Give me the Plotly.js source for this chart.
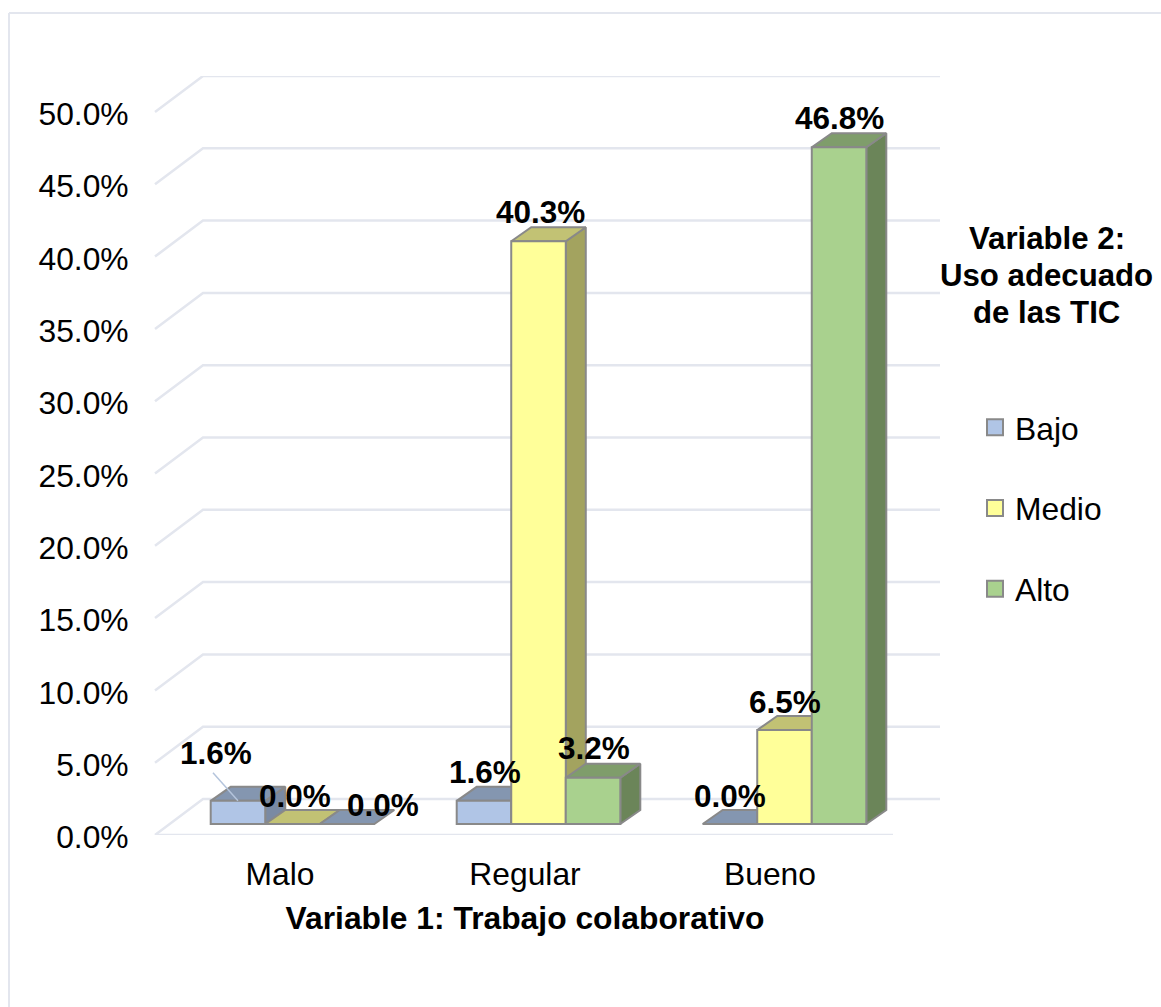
<!DOCTYPE html>
<html>
<head>
<meta charset="utf-8">
<script src="https://cdn.plot.ly/plotly-3.0.1.min.js"></script>
<style>html,body{margin:0;padding:0;background:#fff;overflow:hidden}</style>
</head>
<body>
<div id="chart"></div>
<script>
// ---- data ----
const categories = ["Malo", "Regular", "Bueno"];
const seriesNames = ["Bajo", "Medio", "Alto"];
const bajo = [1.6, 1.6, 0.0];
const medio = [0.0, 40.3, 6.5];
const alto = [0.0, 3.2, 46.8];
const yTicks = [0, 5, 10, 15, 20, 25, 30, 35, 40, 45, 50];
const xTitle = "Variable 1: Trabajo colaborativo";
const legendTitleLines = ["Variable 2:", "Uso adecuado", "de las TIC"];

// ---- styles ----
const frontColors = ["#b0c5e6", "#ffff99", "#a9d18e"];
const topColors = ["#8496b0", "#c2c274", "#7f9d6b"];
const sideColors = ["#7a8aa3", "#a3a35f", "#6b8559"];
const edge = "#898989";
const gridColor = "#e3e6ee";
const FONT = "Liberation Sans, Arial, sans-serif";
const FS = 31.8;

// ---- frame geometry (pixels of the page) ----
const W = 1161, H = 1007;
const plotL = 110, plotR = 940, plotT = 76, plotB = 835;
const groupPx = 246, pxPerPct = 14.46, firstGroupPx = 292.5;
const xMin = (plotL - firstGroupPx) / groupPx, xMax = (plotR - firstGroupPx) / groupPx;
const yMax = (plotB - plotT) / pxPerPct;
const ux = p => p / groupPx, uy = p => p / pxPerPct;
const barBase = uy(11), depthX = ux(20), depthY = uy(14);
const bargap = 0.335, barW = (1 - bargap) / 3;
const paperX = p => (p - plotL) / (plotR - plotL);
const paperY = p => (plotB - p) / (plotB - plotT);

const series = [bajo, medio, alto];
const traces = [];

// walls and floor gridlines
const gx = [], gy = [];
const wallLeft = ux(155 - firstGroupPx), wallBackX = ux(203 - firstGroupPx), wallBackY = uy(36);
yTicks.forEach(t => {
  gx.push(wallLeft, wallBackX, xMax, null);
  gy.push(t, t + wallBackY, t + wallBackY, null);
});
gx.push(wallLeft, ux(893 - firstGroupPx));
gy.push(0, 0);
traces.push({type: "scatter", mode: "lines", x: gx, y: gy, hoverinfo: "skip", showlegend: false,
  cliponaxis: false, line: {color: gridColor, width: 2.5}});

// side and top faces, computed from the values
const poly = () => ({x: [], y: []});
const add = (p, xs, ys) => {
  p.x.push(...xs, xs[0], null);
  p.y.push(...ys, ys[0], null);
};
const zeroAltoTop = poly();
series.forEach((vals, s) => {
  const side = poly(), top = poly();
  vals.forEach((v, i) => {
    const xL = i + (s - 1) * barW - barW / 2, xR = xL + barW, yt = barBase + v;
    if (v > 0) add(side, [xR, xR, xR + depthX, xR + depthX],
      [barBase, yt, yt + depthY, barBase + depthY]);
    const target = (s === 2 && v === 0) ? zeroAltoTop : top;
    add(target, [xL, xR, xR + depthX, xL + depthX], [yt, yt, yt + depthY, yt + depthY]);
  });
  const face = (p, c) => traces.push({type: "scatter", mode: "lines", x: p.x, y: p.y, fill: "toself",
    fillcolor: c, hoverinfo: "skip", showlegend: false, line: {color: edge, width: 2}});
  face(side, sideColors[s]);
  face(top, topColors[s]);
});
traces.push({type: "scatter", mode: "lines", x: zeroAltoTop.x, y: zeroAltoTop.y, fill: "toself",
  fillcolor: topColors[0], hoverinfo: "skip", showlegend: false, line: {color: edge, width: 2}});

// front faces
series.forEach((vals, s) => {
  traces.push({type: "bar", name: seriesNames[s], x: [0, 1, 2], y: vals, base: barBase,
    xaxis: "x2", yaxis: "y2", showlegend: false,
    marker: {color: frontColors[s], line: {color: edge, width: 2}},
    hovertemplate: "%{y:.1f}%<extra>" + seriesNames[s] + "</extra>"});
});

// leader line of the first label
const leadX = 0 + (0 - 1) * barW;
traces.push({type: "scatter", mode: "lines", xaxis: "x2", yaxis: "y2",
  x: [leadX - ux(25), leadX], y: [barBase + bajo[0] + uy(28), barBase + bajo[0]],
  hoverinfo: "skip", showlegend: false, line: {color: "#b4c4dc", width: 1.5}});

// legend entries
seriesNames.forEach((n, s) => {
  traces.push({type: "scatter", mode: "markers", name: n, x: [null], y: [null], legendgroup: n,
    marker: {symbol: "square", size: 16, color: frontColors[s], line: {color: edge, width: 2}}});
});

// data labels: [xshift, yshift] from the front top of each bar
const labelShift = [
  [[-22, 48], [2, 28], [35.5, 19]],
  [[1.5, 29], [1.5, 29], [0.5, 30]],
  [[0.5, 28], [0, 28], [0.5, 29]]
];
const annotations = [];
series.forEach((vals, s) => vals.forEach((v, i) => {
  annotations.push({xref: "x2", yref: "y2", x: i + (s - 1) * barW, y: barBase + v,
    text: "<b>" + v.toFixed(1) + "%</b>", showarrow: false, xanchor: "center", yanchor: "middle",
    xshift: labelShift[i][s][0], yshift: labelShift[i][s][1],
    font: {family: FONT, size: 31.5, color: "#000"}});
}));
const legendTitleY = [238, 275, 312];
legendTitleLines.forEach((t, k) => {
  annotations.push({xref: "paper", yref: "paper", x: paperX(1046.5), y: paperY(legendTitleY[k]),
    text: "<b>" + t + "</b>", showarrow: false, xanchor: "center", yanchor: "middle",
    font: {family: FONT, size: 31.2, color: "#000"}});
});

const layout = {
  width: W, height: H,
  margin: {l: plotL, r: W - plotR, t: plotT, b: H - plotB, pad: 0},
  paper_bgcolor: "#fff", plot_bgcolor: "rgba(0,0,0,0)",
  font: {family: FONT, size: FS, color: "#000"},
  barmode: "group", bargap: bargap, bargroupgap: 0,
  xaxis: {range: [xMin, xMax], tickmode: "array",
    tickvals: categories.map((c, i) => i * 245 / groupPx - ux(12.5)), ticktext: categories,
    showgrid: false, zeroline: false, showline: false,
    ticks: "outside", ticklen: 11, tickcolor: "rgba(0,0,0,0)",
    tickfont: {family: FONT, size: FS, color: "#000"},
    title: {text: "<b>" + xTitle + "</b>", standoff: 15, font: {family: FONT, size: FS, color: "#000"}}},
  yaxis: {range: [0, yMax], anchor: "free", position: paperX(155), tickmode: "array", tickvals: yTicks,
    ticktext: yTicks.map(t => t.toFixed(1) + "%"),
    showgrid: false, zeroline: false, showline: false,
    ticks: "outside", ticklen: 20, tickcolor: "rgba(0,0,0,0)", ticklabelshift: 2,
    tickfont: {family: FONT, size: FS, color: "#000"}},
  xaxis2: {range: [xMin, xMax], overlaying: "x", anchor: "y2", visible: false},
  yaxis2: {range: [0, yMax], overlaying: "y", anchor: "x2", visible: false},
  legend: {x: paperX(975), y: paperY(400), xanchor: "left", yanchor: "top",
    traceorder: "grouped", tracegroupgap: 36.5, bgcolor: "rgba(0,0,0,0)",
    font: {family: FONT, size: FS, color: "#000"}},
  annotations: annotations,
  shapes: [
    {type: "line", xref: "paper", yref: "paper", x0: paperX(9), x1: paperX(9), y0: paperY(13), y1: paperY(1007),
      line: {color: gridColor, width: 2}},
    {type: "line", xref: "paper", yref: "paper", x0: paperX(9), x1: paperX(1161), y0: paperY(13), y1: paperY(13),
      line: {color: gridColor, width: 2}}
  ]
};
Plotly.newPlot("chart", traces, layout, {displayModeBar: false, responsive: false});
</script>
</body>
</html>
